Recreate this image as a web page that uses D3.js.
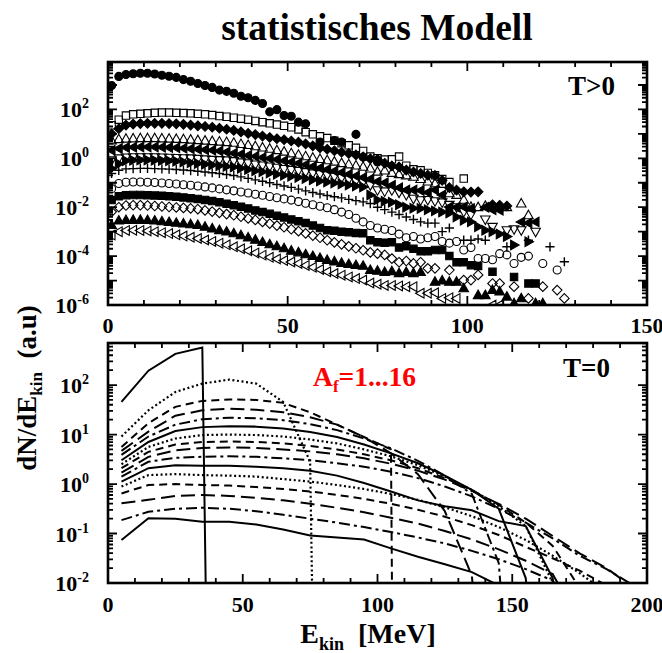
<!DOCTYPE html>
<html>
<head>
<meta charset="utf-8">
<script src="https://cdn.jsdelivr.net/npm/d3@7"></script>
<style>
  body { margin: 0; background: #fff; }
  text { font-family: "Liberation Serif", "Times New Roman", serif; font-weight: bold; }
</style>
</head>
<body>
<svg id="chart" width="662" height="653"></svg>
<script>
// ---------- data: upper panel (T>0), log10(dN/dE) per 2 MeV bin ----------
const topEnergy = [1,3,5,7,9,11,13,15,17,19,21,23,25,27,29,31,33,35,37,39,41,43,45,47,49,51,53,55,57,59,61,63,65,67,69,71,73,75,77,79,81,83,85,87,89,91,93,95,97,99,101,103,105,107,109,111,113,115,117,119,121,123,125,127];

const filledCircleLog = [2.98,3.35,3.43,3.46,3.48,3.48,3.45,3.40,3.36,3.31,3.22,3.15,3.06,2.98,2.90,2.79,2.74,2.66,2.54,2.48,2.37,2.24,1.90,1.99,1.75,1.72,1.48,1.41,null,0.67,null,0.73,0.67,null,0.98,0.05,null,-0.15];
const openSquareLog = [1.35,1.58,1.75,1.80,1.82,1.84,1.86,1.87,1.87,1.86,1.85,1.84,1.82,1.80,1.77,1.73,1.70,1.66,1.62,1.58,1.53,1.48,1.43,1.38,1.33,1.27,1.18,1.07,0.98,0.90,0.83,0.72,0.62,0.53,0.43,0.30,0.07,0.00,-0.05,-0.04,0.07,-0.30,-0.45,-0.49,-0.60,-0.69,-0.85,-0.97,null,-0.83];
const filledDiamondLog = [1.00,1.21,1.36,1.40,1.42,1.43,1.43,1.43,1.42,1.41,1.39,1.36,1.33,1.30,1.27,1.23,1.19,1.14,1.08,1.02,0.97,0.91,0.85,0.80,0.76,0.71,0.66,0.59,0.51,0.43,0.37,0.31,0.25,0.20,0.14,0.06,-0.02,-0.05,-0.20,-0.31,-0.35,-0.48,-0.56,-0.62,-0.69,-0.70,-0.90,-1.20,-1.30,-1.37,-1.38,-1.37,null,-1.90,-1.92,-1.95];
const openTriUpLog = [0.73,0.78,0.80,0.81,0.82,0.82,0.82,0.81,0.80,0.79,0.78,0.76,0.74,0.72,0.70,0.68,0.66,0.63,0.58,0.54,0.49,0.44,0.39,0.33,0.27,0.20,0.14,0.08,0.02,-0.03,-0.08,-0.14,-0.20,-0.25,-0.30,-0.35,-0.42,-0.55,-0.50,-0.60,-0.65,-0.70,-0.76,-0.85,-0.95,-1.03,-1.05,-1.43,-1.50,-1.70,-1.99,-2.00,-1.95,-2.00,-1.98,-2.00,null,-1.85,-2.33];
const filledTriLeftLog = [0.33,0.40,0.44,0.45,0.46,0.46,0.46,0.45,0.44,0.43,0.41,0.39,0.37,0.35,0.33,0.30,0.26,0.21,0.17,0.12,0.08,0.03,-0.01,-0.05,-0.10,-0.15,-0.20,-0.26,-0.33,-0.40,-0.46,-0.52,-0.58,-0.65,-0.72,-0.78,-0.85,-0.95,-1.00,-1.10,-1.20,-1.30,-1.30,-1.32,-1.40,-1.30,-1.50,-1.99,-2.00,-1.99,-2.05,null,-2.00,-2.10,-2.12,null,null,-2.60,-2.65,-2.60];
const openTriDownLog = [-0.08,0.00,0.04,0.05,0.05,0.05,0.05,0.04,0.03,0.02,0.01,0.00,-0.02,-0.04,-0.06,-0.07,-0.08,-0.11,-0.16,-0.20,-0.25,-0.29,-0.33,-0.38,-0.43,-0.47,-0.51,-0.56,-0.61,-0.65,-0.69,-0.75,-0.80,-0.86,-0.92,-0.97,-1.10,-1.30,-1.35,-1.30,-1.40,-1.50,-1.65,-1.71,-1.70,-1.75,-1.80,-1.90,-2.00,-2.19,-2.30,null,-2.50,-2.80,null,-2.94,-2.90,-2.94,null,-3.00];
const filledTriRightLog = [-0.42,-0.22,-0.10,-0.08,-0.07,-0.07,-0.08,-0.09,-0.10,-0.12,-0.15,-0.18,-0.21,-0.24,-0.27,-0.30,-0.33,-0.36,-0.41,-0.46,-0.51,-0.55,-0.60,-0.65,-0.69,-0.73,-0.78,-0.83,-0.88,-0.93,-0.97,-1.01,-1.05,-1.09,-1.13,-1.17,-1.50,-1.70,-1.76,-1.80,-1.90,-2.00,-2.04,-2.05,-2.10,-2.15,-2.20,-2.24,-2.40,-2.53,-2.60,-2.80,-2.94,-3.00,-3.10,-3.20,-3.55,null,-3.41];
const plusLog = [-0.62,-0.49,-0.43,-0.42,-0.41,-0.41,-0.42,-0.43,-0.44,-0.46,-0.48,-0.50,-0.53,-0.56,-0.59,-0.62,-0.66,-0.70,-0.76,-0.82,-0.88,-0.94,-1.00,-1.07,-1.13,-1.19,-1.26,-1.33,-1.40,-1.46,-1.52,-1.57,-1.62,-1.68,-1.73,-1.78,-1.85,-2.00,-2.10,-2.20,-2.30,-2.40,-2.50,-2.60,-2.65,-2.65,-3.00,-2.85,null,-3.35,-3.35,-3.30,-3.35,null,null,-3.62,null,null,-3.35,null,null,-3.62,null,-4.23];
const openCircleLog = [-1.24,-1.03,-0.98,-0.97,-0.97,-0.98,-0.99,-1.01,-1.03,-1.05,-1.08,-1.10,-1.13,-1.17,-1.21,-1.25,-1.29,-1.33,-1.38,-1.42,-1.47,-1.51,-1.56,-1.61,-1.66,-1.71,-1.77,-1.84,-1.90,-1.96,-2.02,-2.10,-2.20,-2.30,-2.45,-2.60,-2.75,-2.85,-2.90,-2.95,-3.10,-3.25,-3.20,-3.30,-3.25,-3.20,-3.40,-3.47,-3.40,-3.75,-3.65,-4.10,-4.10,-4.15,-3.90,-3.95,-4.30,-4.05,-4.00,null,-4.30,null,-4.57];
const filledSquareLog = [-1.71,-1.55,-1.51,-1.50,-1.50,-1.51,-1.52,-1.53,-1.55,-1.57,-1.60,-1.63,-1.66,-1.70,-1.75,-1.80,-1.86,-1.92,-1.98,-2.05,-2.13,-2.20,-2.27,-2.35,-2.42,-2.50,-2.57,-2.65,-2.75,-2.85,-2.94,-2.96,-3.00,-3.02,-3.05,-3.07,-3.35,-3.43,-3.45,-3.43,-3.65,-3.60,-3.70,-3.80,-3.80,-3.75,-3.75,-4.00,-4.25,-4.25,-4.37,-4.40,null,-4.64,null,null,-4.85,null,-5.12,-5.12];
const openDiamondLog = [-2.19,-2.00,-1.93,-1.92,-1.92,-1.93,-1.95,-1.97,-1.99,-2.01,-2.03,-2.05,-2.08,-2.13,-2.18,-2.23,-2.28,-2.33,-2.39,-2.46,-2.52,-2.60,-2.67,-2.75,-2.82,-2.90,-2.98,-3.07,-3.16,-3.25,-3.35,-3.44,-3.52,-3.60,-3.68,-3.76,-3.85,-3.90,-3.95,-4.10,-4.25,-4.20,-4.30,-4.25,-4.50,-4.50,null,-4.57,null,-4.98,-4.98,-4.77,null,-5.12,-5.12,null,-5.25,null,-5.73,null,-5.25,null,-5.39,-5.73];
const filledTriUpLog = [-2.73,-2.55,-2.53,-2.52,-2.52,-2.53,-2.55,-2.58,-2.61,-2.64,-2.67,-2.70,-2.73,-2.80,-2.87,-2.94,-3.00,-3.07,-3.15,-3.24,-3.33,-3.43,-3.52,-3.60,-3.68,-3.78,-3.85,-3.93,-4.00,-4.08,-4.16,-4.22,-4.28,-4.33,-4.37,-4.40,-4.57,-4.60,-4.65,-4.62,-4.70,-4.65,-4.70,-4.65,null,-5.05,-5.00,-5.05,-5.05,-5.32,null,-5.60,-5.60,-5.39,-5.45,-5.66,-5.93,-5.73,null,-5.93,-5.93];
const openTriLeftLog = [-3.14,-3.00,-2.95,-2.94,-2.95,-2.97,-3.00,-3.04,-3.08,-3.13,-3.18,-3.23,-3.28,-3.34,-3.40,-3.47,-3.54,-3.62,-3.70,-3.78,-3.87,-3.96,-4.05,-4.12,-4.18,-4.24,-4.30,-4.38,-4.46,-4.55,-4.64,-4.71,-4.78,-4.85,-4.92,-4.98,-5.10,-5.15,-5.20,-5.20,-5.22,-5.25,-5.25,-5.52,-5.52,-5.50,-5.73,-5.70,-5.73,null,null,null,null,-6.00,-6.00];

const topSeries = [
  { values: filledCircleLog,  shape: "circle",   filled: true },
  { values: openSquareLog,    shape: "square",   filled: false },
  { values: filledDiamondLog, shape: "diamond",  filled: true },
  { values: openTriUpLog,     shape: "triUp",    filled: false },
  { values: filledTriLeftLog, shape: "triLeft",  filled: true },
  { values: openTriDownLog,   shape: "triDown",  filled: false },
  { values: filledTriRightLog,shape: "triRight", filled: true },
  { values: plusLog,          shape: "plus",     filled: false },
  { values: openCircleLog,    shape: "circle",   filled: false },
  { values: filledSquareLog,  shape: "square",   filled: true },
  { values: openDiamondLog,   shape: "diamond",  filled: false },
  { values: filledTriUpLog,   shape: "triUp",    filled: true },
  { values: openTriLeftLog,   shape: "triLeft",  filled: false }
];

// ---------- data: lower panel (T=0), log10(dN/dE) per 10 MeV bin, fragments A=1..16 ----------
const bottomEnergy = [5,15,25,35,45,55,65,75,85,95,105,115,125,135,145,155,165,175,185,195];
const fragmentLog = [
  [1.66,2.29,2.63,2.76],
  [0.96,1.49,1.86,2.03,2.11,2.03,1.66,0.45],
  [0.75,1.23,1.56,1.68,1.71,1.70,1.64,1.45,1.20,0.95,0.70],
  [0.67,1.06,1.38,1.49,1.52,1.50,1.45,1.35,1.20,0.95,0.62,0.20,-0.55,-1.85],
  [0.59,0.96,1.20,1.31,1.34,1.33,1.29,1.21,1.09,0.92,0.72,0.47,0.17,-0.20,-1.60],
  [0.48,0.85,1.07,1.15,1.17,1.16,1.12,1.05,0.95,0.80,0.62,0.42,0.17,-0.12,-0.50,-1.90],
  [0.40,0.75,0.92,0.99,1.00,0.99,0.96,0.90,0.82,0.70,0.56,0.38,0.15,-0.12,-0.45,-0.85,-2.00],
  [0.32,0.65,0.80,0.85,0.86,0.85,0.82,0.77,0.70,0.60,0.48,0.32,0.12,-0.12,-0.42,-0.78,-1.25,-2.10],
  [0.23,0.55,0.68,0.73,0.74,0.73,0.70,0.66,0.60,0.52,0.41,0.27,0.09,-0.14,-0.40,-0.70,-1.05,-1.40,-1.70,-2.10],
  [0.15,0.45,0.53,0.55,0.56,0.55,0.52,0.48,0.42,0.35,0.25,0.12,-0.05,-0.25,-0.50,-0.78,-1.10,-1.45,-1.72,-2.05],
  [0.05,0.32,0.38,0.37,0.37,0.35,0.32,0.27,0.17,0.02,-0.15,-0.33,-0.45,-0.53,-0.75,-0.85,-1.90],
  [-0.05,0.18,0.20,0.18,0.17,0.15,0.10,0.05,-0.02,-0.10,-0.20,-0.32,-0.47,-0.65,-0.87,-1.13,-1.45,-1.80,-2.20],
  [-0.19,-0.02,0.00,-0.02,-0.03,-0.06,-0.10,-0.15,-0.22,-0.30,-0.40,-0.52,-0.66,-0.83,-1.03,-1.27,-1.50,-1.75,-2.05],
  [-0.39,-0.32,-0.24,-0.22,-0.24,-0.28,-0.33,-0.40,-0.48,-0.57,-0.68,-0.80,-0.95,-1.12,-1.32,-1.55,-1.82],
  [-0.73,-0.56,-0.50,-0.48,-0.50,-0.55,-0.62,-0.70,-0.78,-0.87,-0.97,-1.08,-1.20,-1.35,-1.52,-1.72,-1.95],
  [-1.13,-0.69,-0.70,-0.76,-0.76,-0.82,-0.92,-1.04,-1.08,-1.12,-1.30,-1.47,-1.62,-1.78,-2.05]
];
// energy at which each spectrum falls to zero
const cutoffEnergy = [36.5,76,105.5,137,147,157,167,177,197,197,168,187,187,177,177,147];
const lineStyles = ["solid","dotted","dashed","longdash","dashdot"];

// ---------- axis ticks ----------
const topXTicks = [0,50,100,150];
const topYLabelExps = [-6,-4,-2,0,2];
const bottomXTicks = [0,50,100,150,200];
const bottomYLabelExps = [-2,-1,0,1,2];

// ---------- layout ----------
const svg = d3.select("#chart");
const L = 108, R = 647;
const topPanel = { x0: L, x1: R, y0: 62, y1: 305, xDomain: [0,150], yDomain: [1e-6, Math.pow(10,3.94)] };
const botPanel = { x0: L, x1: R, y0: 343, y1: 583, xDomain: [0,200], yDomain: [1e-2, Math.pow(10,2.85)] };

function makeScales(p) {
  return {
    x: d3.scaleLinear().domain(p.xDomain).range([p.x0, p.x1]),
    y: d3.scaleLog().domain(p.yDomain).range([p.y1, p.y0])
  };
}
const topS = makeScales(topPanel);
const botS = makeScales(botPanel);

svg.append("defs").selectAll("clipPath")
  .data([["clipTop", topPanel], ["clipBot", botPanel]])
  .join("clipPath").attr("id", d => d[0])
  .append("rect")
  .attr("x", d => d[1].x0).attr("y", d => d[1].y0)
  .attr("width", d => d[1].x1 - d[1].x0).attr("height", d => d[1].y1 - d[1].y0);

// Frame with inward ticks on all four sides
function drawFrame(p, s, xMinorStep, xMajorStep, ticksX, labelExps, labelBaseline) {
  const g = svg.append("g");
  const xMinor = d3.range(p.xDomain[0], p.xDomain[1] + 0.001, xMinorStep);
  const tickPath = [];
  xMinor.forEach(v => {
    const major = Math.abs(v % xMajorStep) < 1e-6;
    const len = major ? 9 : 5;
    const px = s.x(v);
    tickPath.push(`M${px},${p.y1}V${p.y1 - len}`);
    tickPath.push(`M${px},${p.y0}V${p.y0 + len}`);
  });
  const lo = Math.floor(Math.log10(p.yDomain[0])), hi = Math.ceil(Math.log10(p.yDomain[1]));
  for (let e = lo; e <= hi; e++) {
    for (let m = 1; m <= 9; m++) {
      const v = m * Math.pow(10, e);
      if (v < p.yDomain[0] * 0.999 || v > p.yDomain[1] * 1.001) continue;
      const len = m === 1 ? 9 : 5;
      const py = s.y(v);
      tickPath.push(`M${p.x0},${py}H${p.x0 + len}`);
      tickPath.push(`M${p.x1},${py}H${p.x1 - len}`);
    }
  }
  g.append("path").attr("d", tickPath.join("")).attr("stroke", "#000").attr("stroke-width", 1.8).attr("fill", "none");
  g.append("rect").attr("x", p.x0).attr("y", p.y0).attr("width", p.x1 - p.x0).attr("height", p.y1 - p.y0)
    .attr("fill", "none").attr("stroke", "#000").attr("stroke-width", 2.6);

  g.selectAll("text.xl").data(ticksX).join("text").attr("class", "xl")
    .attr("x", d => s.x(d)).attr("y", labelBaseline).attr("text-anchor", "middle")
    .attr("font-size", 22).text(d => d);

  const yl = g.selectAll("text.yl").data(labelExps).join("text").attr("class", "yl")
    .attr("x", 89).attr("y", d => s.y(Math.pow(10, d)) + 8).attr("text-anchor", "end").attr("font-size", 22);
  yl.append("tspan").text("10");
  yl.append("tspan").attr("dy", -9).attr("font-size", 14).text(d => d);
}

drawFrame(topPanel, topS, 10, 50, topXTicks, topYLabelExps, 333);
drawFrame(botPanel, botS, 10, 50, bottomXTicks, bottomYLabelExps, 612);

// ---------- marker shapes ----------
function shapePath(shape) {
  switch (shape) {
    case "circle": return "M4,0A4,4 0 1,1 -4,0A4,4 0 1,1 4,0Z";
    case "square": return "M-3.7,-3.7H3.7V3.7H-3.7Z";
    case "diamond": return "M0,-4.8L4.8,0L0,4.8L-4.8,0Z";
    case "plus": return "M-4.6,0H4.6M0,-4.6V4.6";
    default: return "M0,-5.1L4.8,3.4L-4.8,3.4Z";
  }
}
const rotation = { triUp: 0, triDown: 180, triLeft: -90, triRight: 90 };

const topMarks = svg.append("g").attr("clip-path", "url(#clipTop)");
topSeries.forEach(sr => {
  const pts = sr.values.map((v, i) => ({ e: topEnergy[i], v })).filter(d => d.v !== null);
  topMarks.append("g").selectAll("path").data(pts).join("path")
    .attr("d", shapePath(sr.shape))
    .attr("transform", d => `translate(${topS.x(d.e)},${topS.y(Math.pow(10, d.v))}) rotate(${rotation[sr.shape] || 0})`)
    .attr("fill", sr.filled ? "#000" : "none")
    .attr("stroke", "#000")
    .attr("stroke-width", sr.shape === "plus" ? 1.4 : 1.1);
});

// ---------- spectra lines ----------
const dashFor = {
  solid: null,
  dotted: "2,2.6",
  dashed: "8,5",
  longdash: "14,6",
  dashdot: "11,4,3,4"
};
const line = d3.line().x(d => botS.x(d.e)).y(d => botS.y(d.v));
const botLines = svg.append("g").attr("clip-path", "url(#clipBot)");
fragmentLog.forEach((vals, k) => {
  const pts = vals.map((v, i) => ({ e: bottomEnergy[i], v: Math.pow(10, v) }));
  pts.push({ e: cutoffEnergy[k], v: 1e-3 });
  const style = lineStyles[k % lineStyles.length];
  botLines.append("path").datum(pts)
    .attr("d", line)
    .attr("fill", "none").attr("stroke", "#000")
    .attr("stroke-width", style === "dotted" ? 2.2 : 2)
    .attr("stroke-dasharray", dashFor[style]);
});

// ---------- titles and annotations ----------
svg.append("text").attr("x", 377).attr("y", 40).attr("text-anchor", "middle")
  .attr("font-size", 37.5).text("statistisches Modell");

svg.append("text").attr("x", 615).attr("y", 95).attr("text-anchor", "end")
  .attr("font-size", 27).text("T>0");
svg.append("text").attr("x", 610).attr("y", 377).attr("text-anchor", "end")
  .attr("font-size", 27).text("T=0");

const af = svg.append("text").attr("x", 313).attr("y", 386).attr("fill", "#ff0000").attr("font-size", 27.5);
af.append("tspan").text("A");
af.append("tspan").attr("dy", 6).attr("font-size", 17).text("f");
af.append("tspan").attr("dy", -6).text("=1...16");

const yt = svg.append("text").attr("transform", "translate(36,388) rotate(-90)")
  .attr("text-anchor", "middle").attr("font-size", 27);
yt.append("tspan").text("dN/dE");
yt.append("tspan").attr("dy", 6).attr("font-size", 17).text("kin");
yt.append("tspan").attr("dy", -6).text("\u00a0\u00a0(a.u)");

const xt = svg.append("text").attr("x", 368).attr("y", 643).attr("text-anchor", "middle").attr("font-size", 28);
xt.append("tspan").text("E");
xt.append("tspan").attr("dy", 7).attr("font-size", 18).text("kin");
xt.append("tspan").attr("dy", -7).text("\u00a0\u00a0[MeV]");
</script>
</body>
</html>
